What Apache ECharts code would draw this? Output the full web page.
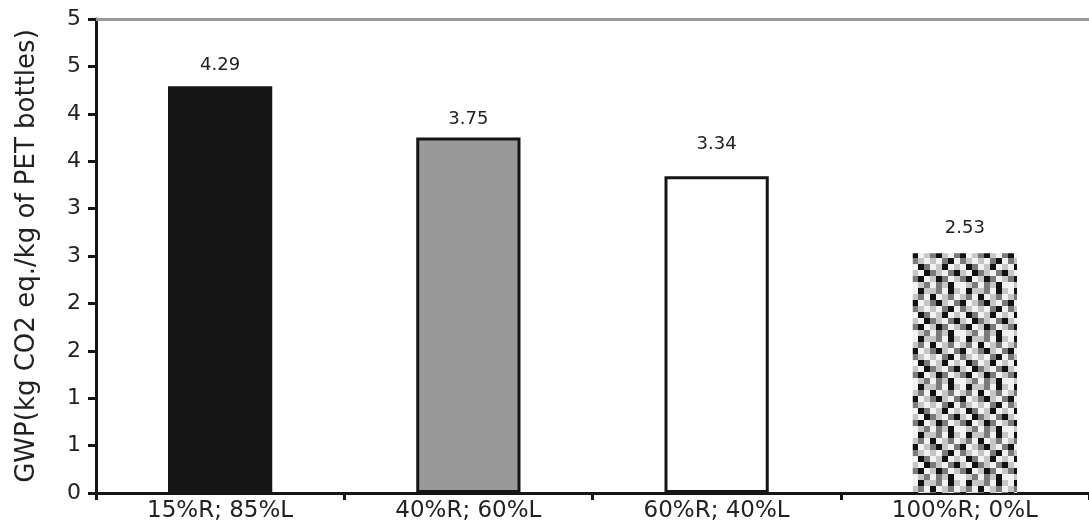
<!DOCTYPE html>
<html>
<head>
<meta charset="utf-8">
<script src="https://cdn.jsdelivr.net/npm/echarts@6/dist/echarts.min.js"></script>
<style>
  html, body { margin: 0; padding: 0; background: #ffffff; }
  #chart { width: 1089px; height: 529px; }
</style>
</head>
<body>
<div id="chart"></div>
<script>
// ---- data ----
const categories = ['15%R; 85%L', '40%R; 60%L', '60%R; 40%L', '100%R; 0%L'];
const gwpValues = [4.29, 3.75, 3.34, 2.53];
const yTicks = { min: 0, max: 5, interval: 0.5 };
const yAxisTitle = 'GWP(kg CO2 eq./kg of PET bottles)';

// ---- styles (kept apart from data) ----
const FONT = 'DejaVu Sans';
const TEXT = '#222222';
const labelGap = [12, 9, 23, 16];

function makePattern() {
  const rows = [
    'wkllgwkl',
    'lgwkwlgw',
    'kwlgklwg',
    'glwlwgkw',
    'wkgwlkwl',
    'lwkglwgk',
    'gkwlkgwl',
    'wlgwglkw'
  ];
  const pal = { k: '#111111', g: '#7a7a7a', l: '#c6c6c6', w: '#f2f2f2' };
  const cell = 6;
  const c = document.createElement('canvas');
  c.width = rows[0].length * cell;
  c.height = rows.length * cell;
  const ctx = c.getContext('2d');
  rows.forEach((r, y) => {
    for (let x = 0; x < r.length; x++) {
      ctx.fillStyle = pal[r[x]];
      ctx.fillRect(x * cell, y * cell, cell, cell);
    }
  });
  return c;
}

const barStyles = [
  { color: '#151515' },
  { color: '#999999', borderColor: '#151515', borderWidth: 3 },
  { color: '#ffffff', borderColor: '#151515', borderWidth: 3 },
  { color: { image: makePattern(), repeat: 'repeat' } }
];

const chart = echarts.init(document.getElementById('chart'));
chart.setOption({
  backgroundColor: '#ffffff',
  animation: false,
  grid: { left: 96, right: 0, top: 19, bottom: 36, outerBoundsMode: 'none' },
  xAxis: [
    {
      type: 'category',
      data: categories,
      boundaryGap: true,
      axisLine: { lineStyle: { color: '#151515', width: 3 } },
      axisTick: { show: true, length: 7, lineStyle: { color: '#151515', width: 3 } },
      axisLabel: { fontFamily: FONT, fontSize: 23, color: TEXT, margin: 7, interval: 0 }
    },
    {
      type: 'category',
      data: categories,
      position: 'top',
      axisLine: { show: true, lineStyle: { color: '#999999', width: 3 } },
      axisTick: { show: false },
      axisLabel: { show: false }
    }
  ],
  yAxis: {
    type: 'value',
    min: yTicks.min,
    max: yTicks.max,
    interval: yTicks.interval,
    name: yAxisTitle,
    nameLocation: 'middle',
    nameGap: 56,
    nameTextStyle: { fontFamily: FONT, fontSize: 26, color: TEXT },
    axisLine: { show: true, lineStyle: { color: '#151515', width: 3 } },
    axisTick: { show: true, length: 8, lineStyle: { color: '#151515', width: 3 } },
    axisLabel: {
      fontFamily: FONT, fontSize: 22, color: TEXT, margin: 15,
      formatter: v => String(Math.round(v))
    },
    splitLine: { show: false }
  },
  series: [{
    type: 'bar',
    xAxisIndex: 0,
    barWidth: '42%',
    data: gwpValues.map((v, i) => ({
      value: v,
      itemStyle: barStyles[i],
      label: { distance: labelGap[i] }
    })),
    label: {
      show: true,
      position: 'top',
      fontFamily: FONT,
      fontSize: 18,
      color: TEXT,
      formatter: p => p.value.toFixed(2)
    }
  }]
});
</script>
</body>
</html>
